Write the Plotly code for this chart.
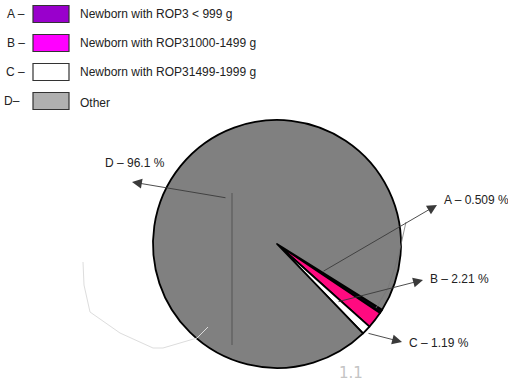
import plotly.graph_objects as go

# Share of newborns by ROP / birth-weight group
letters = ["A", "B", "C", "D"]
groups = [
    "Newborn with ROP3 < 999 g",
    "Newborn with ROP31000-1499 g",
    "Newborn with ROP31499-1999 g",
    "Other",
]
shares = [0.509, 2.21, 1.19, 96.1]
share_text = ["0.509", "2.21", "1.19", "96.1"]

legend_colors = ["#9900cc", "#ff00ff", "#ffffff", "#b0b0b0"]
slice_colors = ["#0b000e", "#ff0a80", "#ffffff", "#808080"]

W, H = 508, 383

fig = go.Figure()

# pixel-space helper axes for overlays
fig.add_trace(go.Scatter(x=[0, W], y=[0, H], mode="markers",
                         marker=dict(opacity=0), hoverinfo="skip",
                         showlegend=False))

fig.add_trace(go.Pie(
    values=shares,
    labels=letters,
    sort=False,
    direction="clockwise",
    rotation=122,
    textinfo="none",
    hoverinfo="label+percent",
    showlegend=False,
    marker=dict(colors=slice_colors, line=dict(color="#000000", width=1.8)),
    domain=dict(x=[153 / W, 401 / W], y=[1 - 368 / H, 1 - 120 / H]),
))

font = dict(family="Liberation Sans, Arial, sans-serif", size=12, color="#222222")

# custom legend
row_y = [14, 43, 72, 101]
for i in range(4):
    y = row_y[i]
    fig.add_annotation(x=27 if i < 3 else 22, y=y, xref="x", yref="y",
                       text=f"{letters[i]} \u2013" if i < 3 else f"{letters[i]}\u2013",
                       showarrow=False, xanchor="right", yanchor="middle", font=font)
    fig.add_shape(type="rect", xref="x", yref="y",
                  x0=33, x1=69, y0=y - 8.5, y1=y + 8.5,
                  fillcolor=legend_colors[i],
                  line=dict(color="#333333", width=1.2))
    fig.add_annotation(x=78, y=y + (2 if i == 3 else 0), xref="x", yref="y",
                       text=groups[i], showarrow=False,
                       xanchor="left", yanchor="middle", font=font)

# value callouts: (tail inside pie, arrow head, label anchor)
callouts = [
    ((322, 272), (437, 205), (442, 200)),
    ((337, 302), (423, 280), (428, 279)),
    ((367, 333), (402, 342), (407, 343)),
    ((227, 198), (132, 182), (135, 163)),
]
for i, (tail, head, lab) in enumerate(callouts):
    fig.add_annotation(x=head[0], y=head[1], ax=tail[0], ay=tail[1],
                       xref="x", yref="y", axref="x", ayref="y",
                       text="", showarrow=True, arrowhead=2, arrowsize=2.2,
                       arrowwidth=0.9, arrowcolor="#3a3a3a", standoff=0)
    fig.add_annotation(x=lab[0], y=lab[1], xref="x", yref="y",
                       text=f"{letters[i]} \u2013 {share_text[i]} %",
                       showarrow=False,
                       xanchor="center" if i == 3 else "left",
                       yanchor="middle", font=font)

# stray guide strokes
fig.add_shape(type="line", xref="x", yref="y", x0=232, x1=232, y0=193, y1=345,
              line=dict(color="#555555", width=1))
fig.add_shape(type="path", xref="x", yref="y",
              path="M 83 262 L 84 285 L 90 312 L 120 333 L 153 348 L 163 348 L 197 338 L 208 327",
              line=dict(color="#dddddd", width=1))
fig.add_shape(type="path", xref="x", yref="y",
              path="M 406 222 L 398 258 L 388 288 L 376 308",
              line=dict(color="#777777", width=0.8))
fig.add_annotation(x=351, y=373, xref="x", yref="y", text="1.1", showarrow=False,
                   font=dict(family="DejaVu Sans, sans-serif", size=15,
                             color="#c4c4c4"))

fig.update_xaxes(range=[0, W], visible=False, fixedrange=True)
fig.update_yaxes(range=[H, 0], visible=False, fixedrange=True)
fig.update_layout(width=W, height=H, margin=dict(l=0, r=0, t=0, b=0),
                  paper_bgcolor="white", plot_bgcolor="white", showlegend=False)

fig.write_html("out.html")
